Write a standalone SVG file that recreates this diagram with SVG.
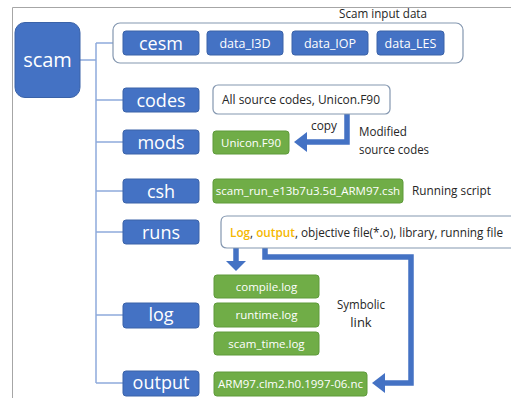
<svg xmlns="http://www.w3.org/2000/svg" width="511" height="398" viewBox="0 0 511 398">
  <defs>
    <style>
      .frame { fill: none; stroke: #a6a6a6; stroke-width: 1; }
      .tree { fill: none; stroke: #8eaadb; stroke-width: 1.5; }
      .dir { fill: #4472c4; stroke: #3a62a8; stroke-width: 1; }
      .dirtxt { fill: #ffffff; font-family: "Open Sans", "Noto Sans", sans-serif; font-size: 18px; text-anchor: middle; }
      .file { fill: #70ad47; stroke: #5e9a3a; stroke-width: 1; }
      .filetxt { fill: #ffffff; font-family: "Open Sans", "Noto Sans", sans-serif; font-size: 11.5px; text-anchor: middle; }
      .box { fill: #ffffff; stroke: #8497b0; stroke-width: 1.2; }
      .note { fill: #262626; font-family: "Open Sans", "Noto Sans", sans-serif; font-size: 13px; }
      .hl { fill: #f5b800; font-weight: 600; }
      .flow { fill: none; stroke: #4472c4; stroke-width: 5.5; stroke-linejoin: miter; }
      .head { fill: #4472c4; }
    </style>
  </defs>

  <!-- page frame -->
  <polyline class="frame" points="12.5,398 12.5,7.5 511,7.5"/>

  <!-- directory tree lines and data-flow arrows -->
  <g id="connectors">
    <polyline class="tree" points="80,60 96,60"/>
    <polyline class="tree" points="96,43 96,383"/>
    <polyline class="tree" points="96,43 113,43"/>
    <polyline class="tree" points="96,100 123,100"/>
    <polyline class="tree" points="96,142 123,142"/>
    <polyline class="tree" points="96,191 123,191"/>
    <polyline class="tree" points="96,232 123,232"/>
    <polyline class="tree" points="96,315 123,315"/>
    <polyline class="tree" points="96,383 123,383"/>

    <!-- copy: codes -> mods -->
    <polyline class="flow" points="347,106 347,142 305,142"/>
    <polygon class="head" points="294,142 307,132 307,152"/>

    <!-- Log -> log files -->
    <polyline class="flow" points="236,241 236,262"/>
    <polygon class="head" points="236,271 226,261 246,261"/>

    <!-- output -> output file -->
    <polyline class="flow" points="265,241 265,257 411,257 411,383 383,383"/>
    <polygon class="head" points="372,383 385,373 385,393"/>
  </g>

  <!-- root -->
  <g id="scam">
    <rect class="dir" x="15" y="22.5" width="65" height="75" rx="10"/>
    <text class="dirtxt" x="47.5" y="67" style="font-size:20px">scam</text>
  </g>

  <!-- cesm -->
  <g id="cesm-group">
    <rect class="box" x="113" y="23" width="350" height="40" rx="7"/>
    <text class="note" x="339" y="18" textLength="88" lengthAdjust="spacingAndGlyphs">Scam input data</text>
  </g>
  <g id="cesm">
    <rect class="dir" x="123" y="31" width="76" height="24" rx="3"/>
    <text class="dirtxt" x="161" y="49.5">cesm</text>
  </g>
  <g id="data_I3D">
    <rect class="dir" x="207" y="31" width="76" height="24" rx="3"/>
    <text class="dirtxt" x="245" y="48" style="font-size:12.5px">data_I3D</text>
  </g>
  <g id="data_IOP">
    <rect class="dir" x="292" y="31" width="76" height="24" rx="3"/>
    <text class="dirtxt" x="330" y="48" style="font-size:12.5px">data_IOP</text>
  </g>
  <g id="data_LES">
    <rect class="dir" x="377" y="31" width="67" height="24" rx="3"/>
    <text class="dirtxt" x="410.5" y="48" style="font-size:12.5px">data_LES</text>
  </g>

  <!-- codes -->
  <g id="codes">
    <rect class="dir" x="123" y="88" width="76" height="24" rx="3"/>
    <text class="dirtxt" x="161" y="106.5">codes</text>
  </g>
  <g id="codes-content">
    <rect class="box" x="213" y="85" width="177" height="29" rx="5"/>
    <text class="note" x="222" y="104" textLength="158" lengthAdjust="spacingAndGlyphs">All source codes, Unicon.F90</text>
  </g>

  <!-- mods -->
  <g id="mods">
    <rect class="dir" x="123" y="130" width="76" height="24" rx="3"/>
    <text class="dirtxt" x="161" y="148.5">mods</text>
  </g>
  <g id="mods-file">
    <rect class="file" x="213" y="131" width="76" height="23" rx="3"/>
    <text class="filetxt" x="251" y="146.5">Unicon.F90</text>
  </g>
  <g id="copy-label">
    <text class="note" x="311" y="130" textLength="26" lengthAdjust="spacingAndGlyphs" style="font-size:12px">copy</text>
    <text class="note" x="359" y="136" textLength="48" lengthAdjust="spacingAndGlyphs">Modified</text>
    <text class="note" x="359" y="154" textLength="70" lengthAdjust="spacingAndGlyphs">source codes</text>
  </g>

  <!-- csh -->
  <g id="csh">
    <rect class="dir" x="123" y="179" width="76" height="24" rx="3"/>
    <text class="dirtxt" x="161" y="197.5">csh</text>
  </g>
  <g id="csh-file">
    <rect class="file" x="213" y="179" width="190" height="24" rx="3"/>
    <text class="filetxt" x="308" y="195">scam_run_e13b7u3.5d_ARM97.csh</text>
    <text class="note" x="412" y="195" textLength="79" lengthAdjust="spacingAndGlyphs">Running script</text>
  </g>

  <!-- runs -->
  <g id="runs">
    <rect class="dir" x="123" y="220" width="76" height="24" rx="3"/>
    <text class="dirtxt" x="161" y="238.5">runs</text>
  </g>
  <g id="runs-content">
    <path class="box" d="M511,216 H227 Q221,216 221,222 V242 Q221,248 227,248 H511"/>
    <text class="note" x="230" y="237" style="font-size:12.2px" textLength="273" lengthAdjust="spacingAndGlyphs"><tspan class="hl">Log</tspan>, <tspan class="hl">output</tspan>, objective file(*.o), library, running file</text>
  </g>

  <!-- log -->
  <g id="log">
    <rect class="dir" x="123" y="303" width="76" height="25" rx="3"/>
    <text class="dirtxt" x="161" y="321">log</text>
  </g>
  <g id="compile-log">
    <rect class="file" x="214" y="275" width="105" height="23" rx="3"/>
    <text class="filetxt" x="266.5" y="290.5">compile.log</text>
  </g>
  <g id="runtime-log">
    <rect class="file" x="214" y="303" width="105" height="24" rx="3"/>
    <text class="filetxt" x="266.5" y="319">runtime.log</text>
  </g>
  <g id="scam_time-log">
    <rect class="file" x="214" y="332" width="105" height="23" rx="3"/>
    <text class="filetxt" x="266.5" y="347.5">scam_time.log</text>
  </g>
  <g id="symlink-label">
    <text class="note" x="337" y="309" textLength="48" lengthAdjust="spacingAndGlyphs">Symbolic</text>
    <text class="note" x="361" y="327" text-anchor="middle">link</text>
  </g>

  <!-- output -->
  <g id="output">
    <rect class="dir" x="123" y="371" width="76" height="25" rx="3"/>
    <text class="dirtxt" x="161" y="389">output</text>
  </g>
  <g id="output-file">
    <rect class="file" x="214" y="372" width="153" height="24" rx="3"/>
    <text class="filetxt" x="290.5" y="388">ARM97.clm2.h0.1997-06.nc</text>
  </g>
</svg>
